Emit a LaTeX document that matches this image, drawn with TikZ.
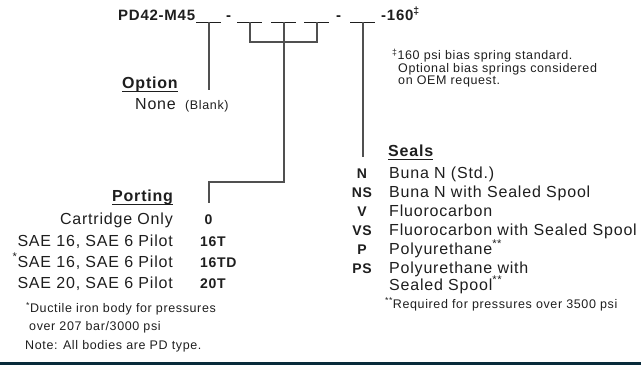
\documentclass[tikz,border=0pt]{standalone}
\usepackage{fontspec}
\setmainfont{Liberation Sans}[LetterSpace=5]
\usepackage{xcolor}
\usepackage{tikz}
\definecolor{inkgray}{RGB}{30,30,30}
\definecolor{linegray}{RGB}{80,80,80}
\definecolor{barnavy}{RGB}{8,42,58}

\begin{document}
\begin{tikzpicture}[x=1pt, y=1pt,
    % Text styles
    title/.style={inner sep=0pt, anchor=base west, text=inkgray, font=\fontsize{15}{17}\selectfont\bfseries},
    head/.style={inner sep=0pt, anchor=base west, text=inkgray, font=\fontsize{16}{18}\selectfont\bfseries},
    item/.style={inner sep=0pt, text=inkgray, font=\fontsize{16}{18}\selectfont},
    code/.style={inner sep=0pt, anchor=base, text=inkgray, font=\fontsize{14}{16}\selectfont\bfseries},
    note/.style={inner sep=0pt, anchor=base west, text=inkgray, font=\fontsize{12.5}{13}\selectfont},
    blank/.style={inner sep=0pt, minimum width=25pt, minimum height=0pt},
    % Line styles
    blankline/.style={draw=inkgray, line width=1pt, dash pattern=on 12pt off 1pt},
    headrule/.style={draw=inkgray, line width=1pt},
    link/.style={draw=linegray, line width=1.2pt}
]

\useasboundingbox (0,0) rectangle (641,-365);

% Bottom bar
\fill[barnavy] (0,-362) rectangle (641,-365);

% Model code
\node[title] (model) at (118,-20) {PD42-M45};
\node[title] (dash1) at (226,-20) {-};
\node[title] (dash2) at (336,-20) {-};
\node[title] (press) at (381,-20) {-160\textsuperscript{‡}};

% Blanks of the model code
\node[blank] (b1) at (209,-22) {};
\node[blank] (b2) at (250,-22) {};
\node[blank] (b3) at (284,-22) {};
\node[blank] (b4) at (317,-22) {};
\node[blank] (b5) at (363,-22) {};

% Spring note
\node[note] (spring1) at (392,-59.5) {\textsuperscript{‡}160 psi bias spring standard.};
\node[note] (spring2) at (398,-72) {Optional bias springs considered};
\node[note] (spring3) at (398,-84.5) {on OEM request.};

% Option
\node[head] (hopt) at (122,-88.5) {Option};
\node[item, anchor=base west] (none) at (135,-109) {None};
\node[note] (blank) at (185,-109) {(Blank)};

% Porting
\node[head] (hport) at (112,-201.5) {Porting};
\node[item, anchor=base east] (lcart) at (173,-224.5) {Cartridge Only};
\node[item, anchor=base east] (lsae16) at (173,-246) {SAE 16, SAE 6 Pilot};
\node[item, anchor=base east] (lsae16d) at (173,-267) {\textsuperscript{*}SAE 16, SAE 6 Pilot};
\node[item, anchor=base east] (lsae20) at (173,-288.5) {SAE 20, SAE 6 Pilot};
\node[code] (c0) at (208.5,-224.5) {0};
\node[code, anchor=base west] (c16t) at (200,-246) {16T};
\node[code, anchor=base west] (c16td) at (200,-267) {16TD};
\node[code, anchor=base west] (c20t) at (200,-288.5) {20T};
\node[note] (ductile1) at (26,-312.5) {\textsuperscript{*}Ductile iron body for pressures};
\node[note] (ductile2) at (29,-330) {over 207 bar/3000 psi};
\node[note] (allpd) at (25,-349) {Note: All bodies are PD type.};

% Seals
\node[head] (hseal) at (388,-156.5) {Seals};
\node[code] (sn) at (362,-178.5) {N};
\node[code] (sns) at (362,-197.5) {NS};
\node[code] (sv) at (362,-216) {V};
\node[code] (svs) at (362,-235) {VS};
\node[code] (sp) at (362,-254) {P};
\node[code] (sps) at (362,-273) {PS};
\node[item, anchor=base west] (dn) at (389,-178.5) {Buna N (Std.)};
\node[item, anchor=base west] (dns) at (389,-197.5) {Buna N with Sealed Spool};
\node[item, anchor=base west] (dv) at (389,-216) {Fluorocarbon};
\node[item, anchor=base west] (dvs) at (389,-235) {Fluorocarbon with Sealed Spool};
\node[item, anchor=base west] (dp) at (389,-254) {Polyurethane\textsuperscript{**}};
\node[item, anchor=base west] (dps) at (389,-273) {Polyurethane with};
\node[item, anchor=base west] (dps2) at (389,-290) {Sealed Spool\textsuperscript{**}};
\node[note] (reqd) at (385,-308) {\textsuperscript{**}Required for pressures over 3500 psi};

% Free ends of the connectors
\coordinate (optend) at (209,-90);
\coordinate (brk) at (284,-42);
\coordinate (portturn) at (209,-182);
\coordinate (portend) at (209,-203);
\coordinate (sealend) at (363,-157);

% Draw the blanks
\draw[blankline] (b1.west) -- (b1.east);
\draw[blankline] (b2.west) -- (b2.east);
\draw[blankline] (b3.west) -- (b3.east);
\draw[blankline] (b4.west) -- (b4.east);
\draw[blankline] (b5.west) -- (b5.east);

% Underline the headings
\draw[headrule] ([yshift=-2.5pt]hopt.base west) -- ([yshift=-2.5pt]hopt.base east);
\draw[headrule] ([yshift=-2.5pt]hport.base west) -- ([yshift=-2.5pt]hport.base east);
\draw[headrule] ([yshift=-2.5pt]hseal.base west) -- ([yshift=-2.5pt]hseal.base east);

% Draw all connectors
\draw[link] (b1) -- (optend);
\draw[link] (b2) |- (brk) -| (b4);
\draw[link] (b3) |- (portturn) -- (portend);
\draw[link] (b5) -- (sealend);

\end{tikzpicture}
\end{document}
